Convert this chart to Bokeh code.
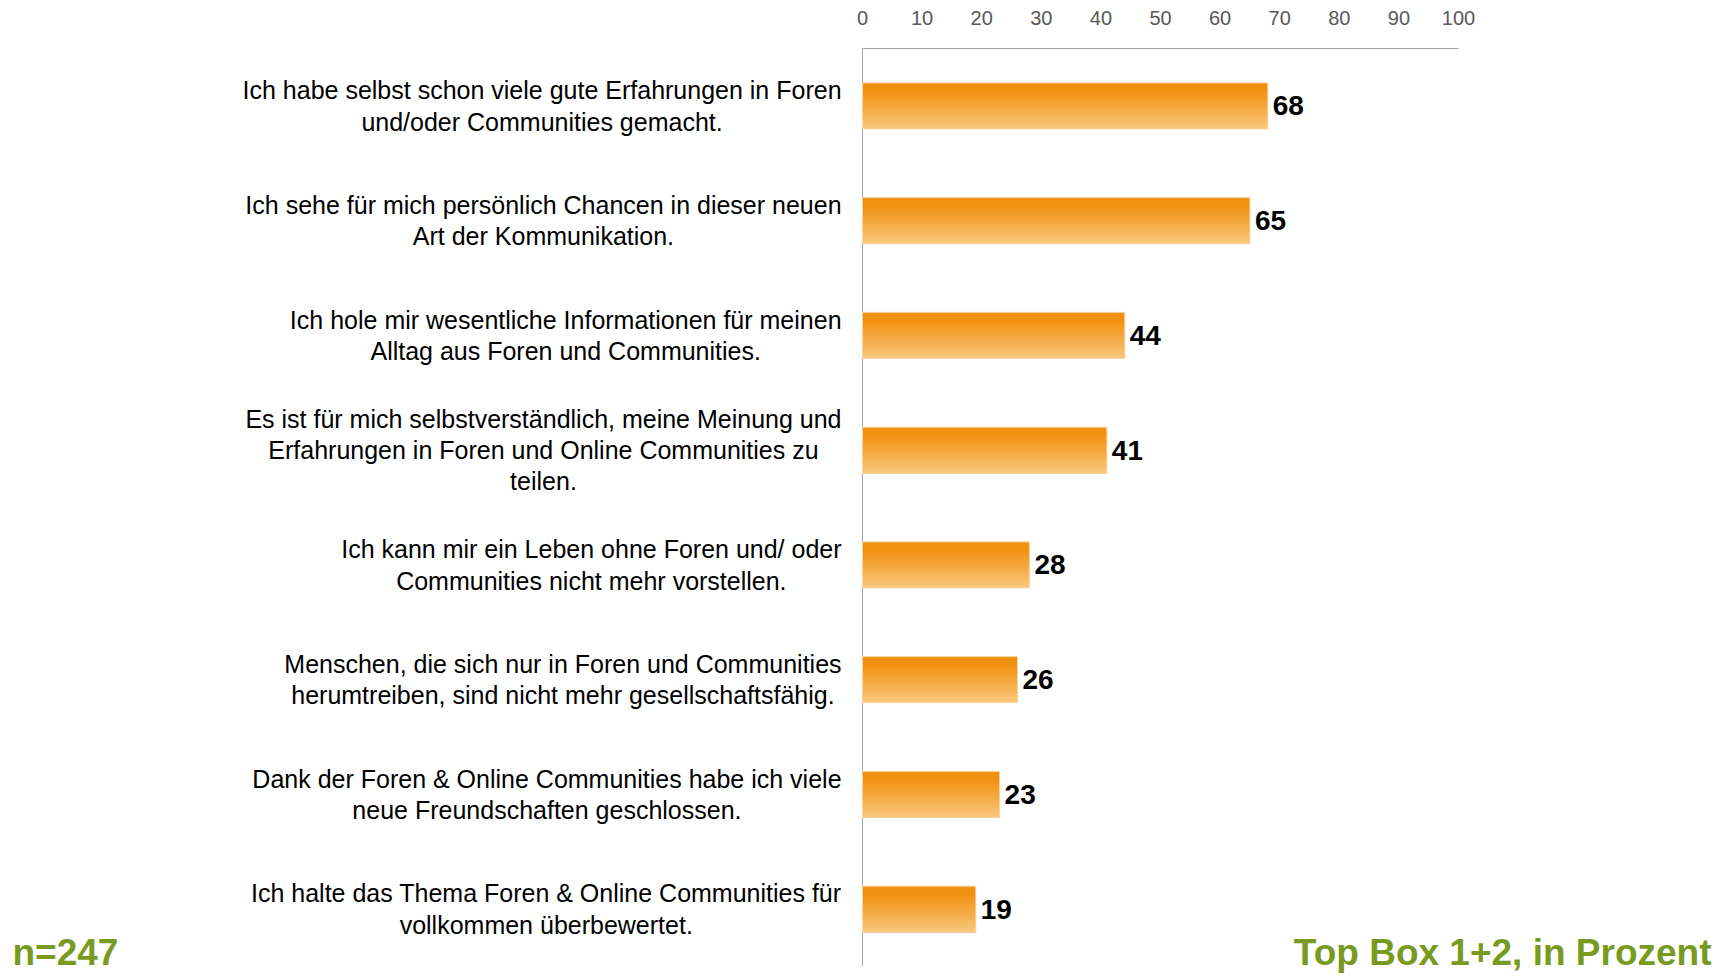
from bokeh.plotting import figure
from bokeh.models import Range1d, FixedTicker, Label
from bokeh.core.properties import value
from bokeh.embed import file_html
from bokeh.resources import INLINE

# ---------------- data ----------------
categories = [
    "Ich habe selbst schon viele gute Erfahrungen in Foren\nund/oder Communities gemacht.",
    "Ich sehe für mich persönlich Chancen in dieser neuen\nArt der Kommunikation.",
    "Ich hole mir wesentliche Informationen für meinen\nAlltag aus Foren und Communities.",
    "Es ist für mich selbstverständlich, meine Meinung und\nErfahrungen in Foren und Online Communities zu\nteilen.",
    "Ich kann mir ein Leben ohne Foren und/ oder\nCommunities nicht mehr vorstellen.",
    "Menschen, die sich nur in Foren und Communities\nherumtreiben, sind nicht mehr gesellschaftsfähig.",
    "Dank der Foren & Online Communities habe ich viele\nneue Freundschaften geschlossen.",
    "Ich halte das Thema Foren & Online Communities für\nvollkommen überbewertet.",
]
values = [68, 65, 44, 41, 28, 26, 23, 19]
x_ticks = [0, 10, 20, 30, 40, 50, 60, 70, 80, 90, 100]
sample_note = "n=247"
scale_note = "Top Box 1+2, in Prozent"

# ---------------- layout ----------------
W, H = 1726, 976
X0_PX, X100_PX = 862, 1458          # canvas px of 0 and 100
TOP_PX, BOT_PX = 48, 966            # canvas px of plot area top / bottom
n = len(categories)
px_per_unit = (X100_PX - X0_PX) / 100.0
x_start = (0 - X0_PX) / px_per_unit
x_end = (W - X0_PX) / px_per_unit
cat_px = (BOT_PX - TOP_PX) / n
y_end = (H - TOP_PX) / cat_px        # frame runs to the canvas bottom


def px_to_x(px):
    return (px - X0_PX) / px_per_unit


def py_to_y(py):
    return (py - TOP_PX) / cat_px


p = figure(width=W, height=H, output_backend="svg", toolbar_location=None,
           x_range=Range1d(x_start, x_end), y_range=Range1d(y_end, 0),
           x_axis_location="above", y_axis_location=None,
           min_border_left=0, min_border_right=0,
           min_border_top=TOP_PX, min_border_bottom=0)
p.outline_line_color = None
p.xgrid.visible = False
p.ygrid.visible = False
p.background_fill_color = "white"

ax = p.xaxis[0]
ax.ticker = FixedTicker(ticks=x_ticks)
ax.bounds = (0, 100)
ax.axis_line_color = "#a6a6a6"
ax.axis_line_width = 1
ax.major_tick_line_color = None
ax.minor_tick_line_color = None
ax.major_tick_out = 0
ax.major_label_standoff = 24
ax.major_label_text_font = "Liberation Sans"
ax.major_label_text_font_size = "20px"
ax.major_label_text_color = "#595959"

# vertical category axis line at x = 0
p.segment(x0=[0], y0=[0], x1=[0], y1=[n], line_color="#a6a6a6", line_width=1)

# ---------------- bars (vertical gradient via nested strips) ----------------
ys = [i + 0.5 for i in range(n)]
bar_h = 46 / cat_px
N = 23
top_c = (241, 145, 16)
bot_c = (250, 200, 126)


def grad(t):
    if t < 0.18:
        return "#%02x%02x%02x" % top_c
    u = (t - 0.18) / 0.82
    c = tuple(int(round(top_c[k] + (bot_c[k] - top_c[k]) * u)) for k in range(3))
    return "#%02x%02x%02x" % c


for k in range(N):
    t = (k + 0.5) / N
    frac_top = k / N
    seg_h = bar_h * (1 - frac_top)
    sy = [y - bar_h / 2 + bar_h * frac_top + seg_h / 2 for y in ys]
    p.hbar(y=sy, left=0, right=values, height=seg_h,
           fill_color=grad(t), line_color=None)
p.hbar(y=ys, left=0, right=values, height=bar_h, fill_color=None,
       line_color="#fbd49c", line_width=1)

# value labels
p.text(x=values, y=ys, text=[str(v) for v in values], x_offset=5,
       text_align="left", text_baseline="middle",
       text_font=value("Liberation Sans"), text_font_style="bold",
       text_font_size="28px", text_color="#000000")

# ---------------- category labels ----------------
AW = {' ': 278, '!': 278, '&': 667, '(': 333, ')': 333, '+': 584, ',': 278, '-': 333,
      '.': 278, '/': 278, '=': 584,
      'A': 667, 'B': 667, 'C': 722, 'D': 722, 'E': 667, 'F': 611, 'G': 778, 'H': 722,
      'I': 278, 'J': 500, 'K': 667, 'L': 556, 'M': 833, 'N': 722, 'O': 778, 'P': 667,
      'Q': 778, 'R': 722, 'S': 667, 'T': 611, 'U': 722, 'V': 667, 'W': 944, 'X': 667,
      'Y': 667, 'Z': 611,
      'a': 556, 'b': 556, 'c': 500, 'd': 556, 'e': 556, 'f': 278, 'g': 556, 'h': 556,
      'i': 222, 'j': 222, 'k': 500, 'l': 222, 'm': 833, 'n': 556, 'o': 556, 'p': 556,
      'q': 556, 'r': 333, 's': 500, 't': 278, 'u': 556, 'v': 500, 'w': 722, 'x': 500,
      'y': 500, 'z': 500, 'ä': 556, 'ö': 556, 'ü': 556, 'ß': 611}
LABEL_FS = 25
RIGHT_PX = 841


def text_w(s, fs):
    return sum(AW.get(ch, 556) for ch in s) * fs / 1000.0


cx = []
for c in categories:
    mw = max(text_w(line, LABEL_FS) for line in c.split("\n"))
    cx.append(px_to_x(RIGHT_PX - mw / 2.0))

p.text(x=cx, y=ys, text=categories, text_align="center", text_baseline="middle",
       text_font=value("Liberation Sans"), text_font_size=f"{LABEL_FS}px",
       text_line_height=1.12, text_color="#000000")

# ---------------- notes ----------------
green = "#789a20"
p.add_layout(Label(x=px_to_x(12), y=py_to_y(952), text=sample_note,
                   text_align="left", text_baseline="middle",
                   text_font="Liberation Sans", text_font_style="bold",
                   text_font_size="37px", text_color=green))
p.add_layout(Label(x=px_to_x(1711), y=py_to_y(952), text=scale_note,
                   text_align="right", text_baseline="middle",
                   text_font="Liberation Sans", text_font_style="bold",
                   text_font_size="37px", text_color=green))

open("out.html", "w").write(file_html(p, INLINE))
